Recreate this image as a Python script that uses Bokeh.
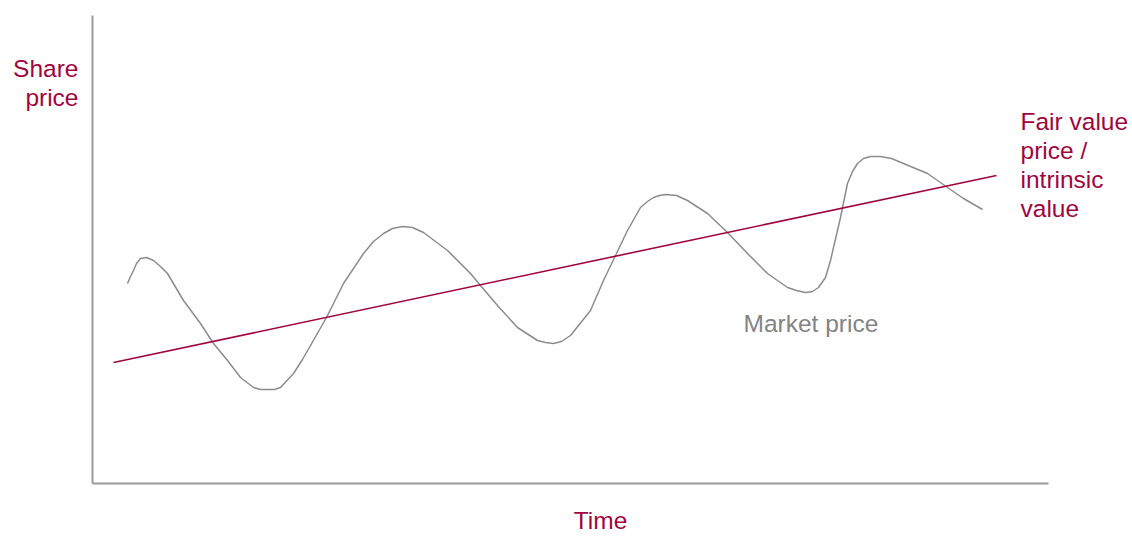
from bokeh.plotting import figure
from bokeh.models import Range1d, Label, FixedTicker, LinearAxis
from bokeh.embed import file_html
from bokeh.resources import INLINE

# Time (x) and share price (y) readings, in chart units
market_time = [35, 38, 41, 44, 48, 54, 61, 68, 75, 91, 108, 121, 135, 148, 161, 168, 175, 182,
               188, 201, 210, 234, 251, 271, 281, 291, 300, 310, 320, 331, 355, 378, 388, 405,
               425, 445, 453, 461, 469, 478, 498, 511, 523, 535, 548, 555, 561, 567, 573,
               584, 595, 615, 635, 655, 675, 695, 704, 713, 720, 726, 733, 738, 748, 755,
               760, 765, 771, 778, 788, 799, 811, 835, 855, 871, 890]
market_price = [200, 207, 213, 220, 225, 226, 223, 217, 210, 183, 160, 140, 123, 106, 96, 94,
                94, 94, 96, 110, 124, 166, 200, 230, 242, 250, 255, 257, 256, 251, 233, 210,
                198, 178, 156, 143, 141, 140, 142, 148, 173, 203, 228, 253, 276, 282, 286,
                288, 289, 288, 283, 270, 251, 230, 210, 196, 193, 191, 192, 196, 206, 223,
                266, 300, 312, 320, 325, 327, 327, 325, 320, 310, 296, 285, 274]
fair_time = [21, 904]
fair_price = [121, 308]

CRIMSON = "#A0063E"
GREY_LINE = "#8C8C8C"
GREY_TEXT = "#848484"
AXIS = "#9A9A9A"
FONT = "Liberation Sans"

p = figure(width=1132, height=536, output_backend="svg", toolbar_location=None,
           x_range=Range1d(-92, 1040), y_range=Range1d(-53, 483),
           x_axis_location=None, y_axis_location=None, min_border=0)
p.outline_line_color = None
p.grid.visible = False
p.background_fill_color = "white"
p.border_fill_color = "white"

xa = LinearAxis(fixed_location=0, bounds=(0, 956))
ya = LinearAxis(fixed_location=0, bounds=(0, 468))
for ax in (xa, ya):
    ax.ticker = FixedTicker(ticks=[])
    ax.major_tick_line_color = None
    ax.minor_tick_line_color = None
    ax.major_tick_out = 0
    ax.major_tick_in = 0
    ax.minor_tick_out = 0
    ax.minor_tick_in = 0
    ax.major_label_standoff = 0
    ax.major_label_text_font_size = "0px"
    ax.axis_line_color = AXIS
    ax.axis_line_width = 2
p.add_layout(xa, "below")
p.add_layout(ya, "left")

p.line(market_time, market_price, line_color=GREY_LINE, line_width=1.5, line_join="round")
p.line(fair_time, fair_price, line_color=CRIMSON, line_width=1.6)

def lab(x, y, t, color, align="left"):
    p.add_layout(Label(x=x, y=y, text=t, text_color=color, text_font=FONT,
                       text_font_size="24.5px", text_align=align,
                       text_baseline="alphabetic"))

lab(-14, 415, "Share", CRIMSON, "right")
lab(-14, 386, "price", CRIMSON, "right")
lab(928, 362, "Fair value", CRIMSON)
lab(928, 333, "price /", CRIMSON)
lab(928, 304, "intrinsic", CRIMSON)
lab(928, 275, "value", CRIMSON)
lab(651, 160, "Market price", GREY_TEXT)
lab(508, -37, "Time", CRIMSON, "center")

open("out.html", "w").write(file_html(p, INLINE))
